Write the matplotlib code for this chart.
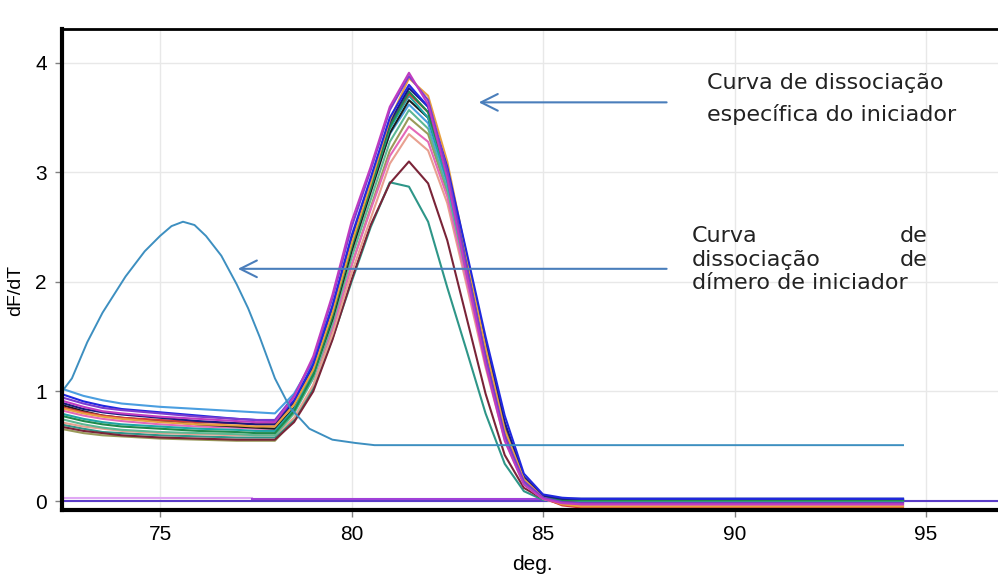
import matplotlib
matplotlib.use("Agg")
import matplotlib.pyplot as plt

plt.rcParams['font.family'] = ['Liberation Sans', 'DejaVu Sans']

# temperature grid of the melt curves (deg. C)
temps = [72.4, 73.0, 73.5, 74.0, 75.0, 76.0, 77.0, 77.5, 78.0, 78.5, 79.0, 79.5, 80.0,
         80.5, 81.0, 81.5, 82.0, 82.5, 83.0, 83.5, 84.0, 84.5, 85.0, 85.5, 86.0, 90.0, 94.4]

# dF/dT of each well, specific product
olive = [0.66, 0.62, 0.60, 0.59, 0.57, 0.56, 0.55, 0.55, 0.55, 0.74, 1.05, 1.55, 2.15,
         2.68, 3.20, 3.50, 3.35, 2.82, 2.06, 1.28, 0.60, 0.17, 0.03, 0.00, 0.00, 0.00, 0.00]
dark_teal = [0.70, 0.66, 0.63, 0.62, 0.60, 0.59, 0.58, 0.58, 0.58, 0.74, 1.02, 1.48, 2.00,
             2.50, 2.91, 2.87, 2.55, 1.95, 1.38, 0.80, 0.34, 0.09, 0.01, -0.01, -0.01, -0.01, -0.01]
brown = [0.68, 0.64, 0.62, 0.60, 0.58, 0.57, 0.56, 0.56, 0.56, 0.72, 1.00, 1.47, 2.02,
         2.52, 2.90, 3.10, 2.90, 2.38, 1.68, 0.98, 0.42, 0.12, 0.02, -0.01, -0.02, -0.02, -0.02]
salmon = [0.72, 0.68, 0.66, 0.64, 0.62, 0.61, 0.60, 0.60, 0.60, 0.76, 1.06, 1.52, 2.08,
          2.58, 3.08, 3.35, 3.20, 2.72, 1.98, 1.22, 0.56, 0.15, 0.02, -0.03, -0.05, -0.05, -0.05]
pink = [0.83, 0.78, 0.75, 0.73, 0.70, 0.68, 0.67, 0.66, 0.66, 0.83, 1.12, 1.58, 2.15,
        2.66, 3.15, 3.42, 3.28, 2.78, 2.02, 1.25, 0.58, 0.16, 0.02, -0.03, -0.04, -0.04, -0.04]
sea_green = [0.75, 0.70, 0.67, 0.65, 0.63, 0.62, 0.61, 0.60, 0.60, 0.80, 1.12, 1.62, 2.22,
             2.75, 3.28, 3.57, 3.40, 2.85, 2.08, 1.30, 0.60, 0.17, 0.03, 0.01, 0.01, 0.01, 0.01]
light_blue = [1.03, 0.96, 0.92, 0.89, 0.86, 0.84, 0.82, 0.81, 0.80, 0.98, 1.28, 1.78, 2.38,
              2.88, 3.35, 3.62, 3.45, 2.90, 2.12, 1.35, 0.64, 0.20, 0.04, 0.02, 0.02, 0.02, 0.02]
black = [0.88, 0.82, 0.78, 0.76, 0.73, 0.70, 0.68, 0.67, 0.66, 0.85, 1.16, 1.66, 2.28,
         2.82, 3.36, 3.66, 3.50, 2.95, 2.18, 1.40, 0.68, 0.21, 0.04, 0.01, 0.01, 0.01, 0.01]
teal = [0.80, 0.75, 0.72, 0.70, 0.68, 0.66, 0.65, 0.64, 0.64, 0.84, 1.18, 1.70, 2.33,
        2.86, 3.40, 3.70, 3.50, 2.92, 2.12, 1.32, 0.62, 0.18, 0.03, 0.01, 0.01, 0.01, 0.01]
red = [0.86, 0.81, 0.78, 0.76, 0.74, 0.72, 0.71, 0.70, 0.70, 0.90, 1.22, 1.74, 2.36,
       2.90, 3.44, 3.72, 3.55, 3.00, 2.20, 1.40, 0.68, 0.20, 0.03, -0.04, -0.06, -0.06, -0.06]
green = [0.78, 0.73, 0.70, 0.68, 0.66, 0.64, 0.63, 0.62, 0.62, 0.82, 1.15, 1.68, 2.32,
         2.86, 3.42, 3.74, 3.55, 2.98, 2.18, 1.38, 0.66, 0.20, 0.04, 0.01, 0.01, 0.01, 0.01]
navy = [0.90, 0.84, 0.81, 0.79, 0.76, 0.73, 0.71, 0.70, 0.70, 0.90, 1.22, 1.75, 2.38,
        2.92, 3.46, 3.77, 3.60, 3.05, 2.25, 1.45, 0.72, 0.22, 0.05, 0.02, 0.02, 0.02, 0.02]
orange = [0.85, 0.80, 0.77, 0.75, 0.72, 0.70, 0.69, 0.68, 0.68, 0.88, 1.20, 1.72, 2.35,
          2.90, 3.48, 3.86, 3.70, 3.10, 2.25, 1.40, 0.65, 0.20, 0.03, -0.03, -0.05, -0.05, -0.05]
blue = [0.98, 0.91, 0.87, 0.84, 0.81, 0.78, 0.75, 0.74, 0.73, 0.92, 1.25, 1.78, 2.42,
        2.95, 3.50, 3.80, 3.60, 3.05, 2.28, 1.50, 0.78, 0.25, 0.06, 0.03, 0.02, 0.02, 0.02]
violet = [0.95, 0.89, 0.85, 0.83, 0.80, 0.77, 0.75, 0.74, 0.74, 0.96, 1.30, 1.85, 2.50,
          3.02, 3.57, 3.88, 3.66, 3.02, 2.15, 1.32, 0.60, 0.18, 0.03, -0.01, -0.02, -0.02, -0.02]
magenta = [0.92, 0.86, 0.82, 0.80, 0.77, 0.75, 0.73, 0.72, 0.72, 0.95, 1.32, 1.88, 2.55,
           3.05, 3.60, 3.91, 3.62, 2.95, 2.08, 1.25, 0.55, 0.15, 0.02, -0.02, -0.03, -0.03, -0.03]

wells = [
    (olive, '#9a9a5a'), (dark_teal, '#2e9688'), (brown, '#7a2438'), (salmon, '#e8a090'),
    (pink, '#e468b8'), (sea_green, '#5cb894'), (light_blue, '#4a9ee0'), (black, '#1c1c1c'),
    (teal, '#1fa5a5'), (red, '#d23a3a'), (green, '#1f8a4c'), (navy, '#1a1a80'),
    (orange, '#e8a040'), (blue, '#2028e0'), (violet, '#7a3cd0'), (magenta, '#c03cc0'),
]

# primer-dimer well
dimer_t = [72.4, 72.7, 73.1, 73.5, 74.1, 74.6, 75.0, 75.3, 75.6, 75.9, 76.2, 76.6,
           77.0, 77.3, 77.6, 78.0, 78.4, 78.9, 79.5, 80.1, 80.6, 94.4]
dimer_df = [0.98, 1.12, 1.45, 1.72, 2.05, 2.28, 2.42, 2.51, 2.55, 2.52, 2.42, 2.24,
            1.98, 1.76, 1.50, 1.12, 0.85, 0.66, 0.56, 0.53, 0.51, 0.51]

# no-template controls, flat near zero
ntc_t = [72.4, 97.0]
ntc_df = [0.0, 0.0]
ntc2_t = [77.4, 94.4]
ntc2_df = [0.015, 0.015]
ntc3_t = [72.4, 77.4]
ntc3_df = [0.03, 0.03]

x_ticks = [75, 80, 85, 90, 95]
y_ticks = [0, 1, 2, 3, 4]

fig = plt.figure(figsize=(9.98, 5.76), dpi=100)
ax = fig.add_axes([0.0621, 0.1146, 0.9379, 0.8351])

ax.plot(ntc_t, ntc_df, color='#5a3cc8', lw=1.5)
ax.plot(ntc3_t, ntc3_df, color='#e0a8f4', lw=1.5)
ax.plot(ntc2_t, ntc2_df, color='#a040d8', lw=1.5)

for vals, col in wells:
    ax.plot(temps, vals, color=col, lw=1.5)

ax.plot(dimer_t, dimer_df, color='#3d8fc0', lw=1.4)

ax.set_xlim(72.44, 96.88)
ax.set_ylim(-0.082, 4.31)
ax.set_xticks(x_ticks)
ax.set_yticks(y_ticks)
ax.grid(True, color='#e8e8e8', lw=1)
ax.set_axisbelow(True)
ax.tick_params(labelsize=15, length=5, width=1, color='#808080', pad=6)

for side in ['left', 'bottom']:
    ax.spines[side].set_linewidth(3)
ax.spines['top'].set_linewidth(2)
ax.spines['right'].set_visible(False)

ax.set_xlabel('deg.', fontsize=15)
ax.xaxis.set_label_coords(0.503, -0.093)
ax.set_ylabel('dF/dT', fontsize=14)
ax.yaxis.set_label_coords(-0.040, 0.457)

# arrows pointing at the two melt peaks
arrow_col = '#4a7ebb'
head = '->,head_length=1.2,head_width=0.6'
ax.annotate('', xy=(83.25, 3.64), xytext=(88.3, 3.64),
            arrowprops=dict(arrowstyle=head, color=arrow_col, lw=1.5))
ax.annotate('', xy=(76.96, 2.12), xytext=(88.3, 2.12),
            arrowprops=dict(arrowstyle=head, color=arrow_col, lw=1.5))

txt = dict(fontsize=16, color='#222222', va='center', family='DejaVu Sans')
ax.text(89.28, 3.82, 'Curva de dissociação', ha='left', **txt)
ax.text(89.28, 3.53, 'específica do iniciador', ha='left', **txt)

ax.text(88.89, 2.42, 'Curva', ha='left', **txt)
ax.text(95.05, 2.42, 'de', ha='right', **txt)
ax.text(88.89, 2.20, 'dissociação', ha='left', **txt)
ax.text(95.05, 2.20, 'de', ha='right', **txt)
ax.text(88.89, 1.99, 'dímero de iniciador', ha='left', **txt)

fig.savefig('out.png', dpi=100)
